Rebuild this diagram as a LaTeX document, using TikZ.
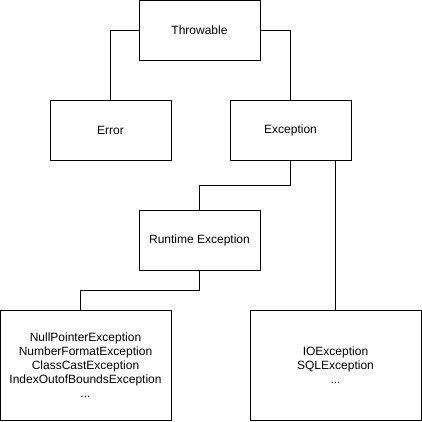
\documentclass[tikz,border=0pt]{standalone}
\usepackage{fontspec}
\setmainfont{Liberation Sans}
\usetikzlibrary{calc}

\tikzset{
  cls/.style={draw,line width=1pt,inner sep=0pt,align=center,font=\fontsize{12}{14}\selectfont},
  link/.style={line width=1pt,line join=miter}
}

\begin{document}
\begin{tikzpicture}[x=1pt,y=-1pt]
  \useasboundingbox (0,0) rectangle (422,421);
  % boxes
  \node[cls,minimum width=121pt,minimum height=60pt] (thr) at (199.5,30) {Throwable};
  \node[cls,minimum width=121pt,minimum height=60pt] (err) at (110.5,130) {Error};
  \node[cls,minimum width=121pt,minimum height=60pt] (exc) at (290.5,130) {Exception};
  \node[cls,minimum width=121pt,minimum height=60pt] (rte) at (199.5,240) {Runtime Exception};
  \node[cls,minimum width=171pt,minimum height=110pt] (unchk) at (85.5,365)
    {NullPointerException\\NumberFormatException\\ClassCastException\\IndexOutofBoundsException\\...};
  \node[cls,minimum width=171pt,minimum height=110pt] (chk) at (335.5,365)
    {IOException\\SQLException\\...};
  % connectors
  \coordinate (unchktop) at ($(unchk.north)+(-5.5,0)$);
  \draw[link] (thr.west) -| (err.north);
  \draw[link] (thr.east) -| (exc.north);
  \draw[link] (exc.south) -- ++(0,25) -| (rte.north);
  \draw[link] (rte.south) -- ++(0,20) -| (unchktop);
  \draw[link] (chk.north |- exc.south) -- (chk.north);
\end{tikzpicture}
\end{document}
